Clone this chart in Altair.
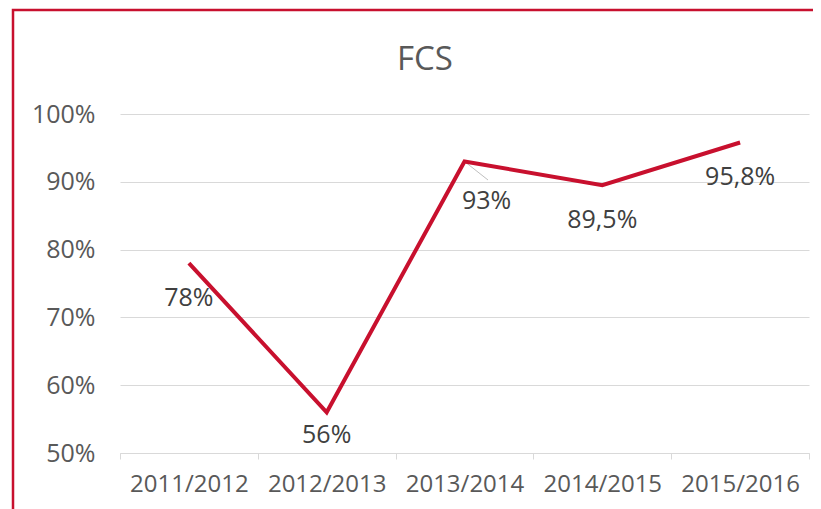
import altair as alt
import pandas as pd

categories = ["2011/2012", "2012/2013", "2013/2014", "2014/2015", "2015/2016"]
values = [0.78, 0.56, 0.93, 0.895, 0.958]
labels = ["78%", "56%", "93%", "89,5%", "95,8%"]
y_ticks = [0.5, 0.6, 0.7, 0.8, 0.9, 1.0]
title_text = ["FCS"]

df = pd.DataFrame({"cat": categories, "v": values, "lab": labels})

RED = "#C8102E"
FONT = "Open Sans"

xenc = alt.X(
    "cat:N",
    sort=categories,
    bandPosition=0.5,
    scale=alt.Scale(type="band", paddingInner=0, paddingOuter=0),
    axis=alt.Axis(
        title=None, labelAngle=0, tickBand="extent", grid=False,
        domainColor="#D9D9D9", tickColor="#D9D9D9", tickSize=6,
        labelFontSize=24, labelColor="#595959", labelFont=FONT,
        labelPadding=13,
    ),
)
yenc = alt.Y(
    "v:Q",
    scale=alt.Scale(domain=[0.5, 1.0]),
    axis=alt.Axis(
        title=None, format=".0%", values=y_ticks, grid=True,
        gridColor="#D9D9D9", domain=False, ticks=False,
        labelFontSize=25, labelColor="#595959", labelFont=FONT,
        labelPadding=25,
    ),
)

base = alt.Chart(df)

border = alt.Chart(pd.DataFrame({"a": [0]})).mark_rect(
    fillOpacity=0, stroke=RED, strokeWidth=2.5
).encode(
    x=alt.value(-107), x2=alt.value(1500), y=alt.value(-104), y2=alt.value(1500)
)

title = alt.Chart(pd.DataFrame({"t": title_text})).mark_text(
    fontSize=33, font=FONT, color="#595959", baseline="alphabetic", align="center"
).encode(x=alt.value(305), y=alt.value(-44), text="t:N")

line = base.mark_line(color=RED, strokeWidth=4).encode(x=xenc, y=yenc)

leader = base.transform_filter(alt.datum.cat == "2013/2014").mark_rule(
    color="#BFBFBF", strokeWidth=1
).encode(x=xenc, y=yenc, x2=alt.value(368), y2=alt.value(66))

txt_main = base.transform_filter(
    (alt.datum.cat != "2012/2013") & (alt.datum.cat != "2013/2014")
).mark_text(dy=35, fontSize=25, color="#404040", font=FONT).encode(
    x=xenc, y=yenc, text="lab:N"
)
txt_low = base.transform_filter(alt.datum.cat == "2012/2013").mark_text(
    dy=23, fontSize=25, color="#404040", font=FONT
).encode(x=xenc, y=yenc, text="lab:N")
txt_93 = base.transform_filter(alt.datum.cat == "2013/2014").mark_text(
    dx=22, dy=40, fontSize=25, color="#404040", font=FONT
).encode(x=xenc, y=yenc, text="lab:N")

chart = alt.layer(border, title, leader, line, txt_main, txt_low, txt_93).properties(
    width=689,
    height=339,
    autosize=alt.AutoSizeParams(type="none"),
    padding={"left": 112, "top": 106, "right": 4, "bottom": 56},
).configure_view(stroke=None)

chart.save("out.html", embed_options={"renderer": "svg", "actions": False})
